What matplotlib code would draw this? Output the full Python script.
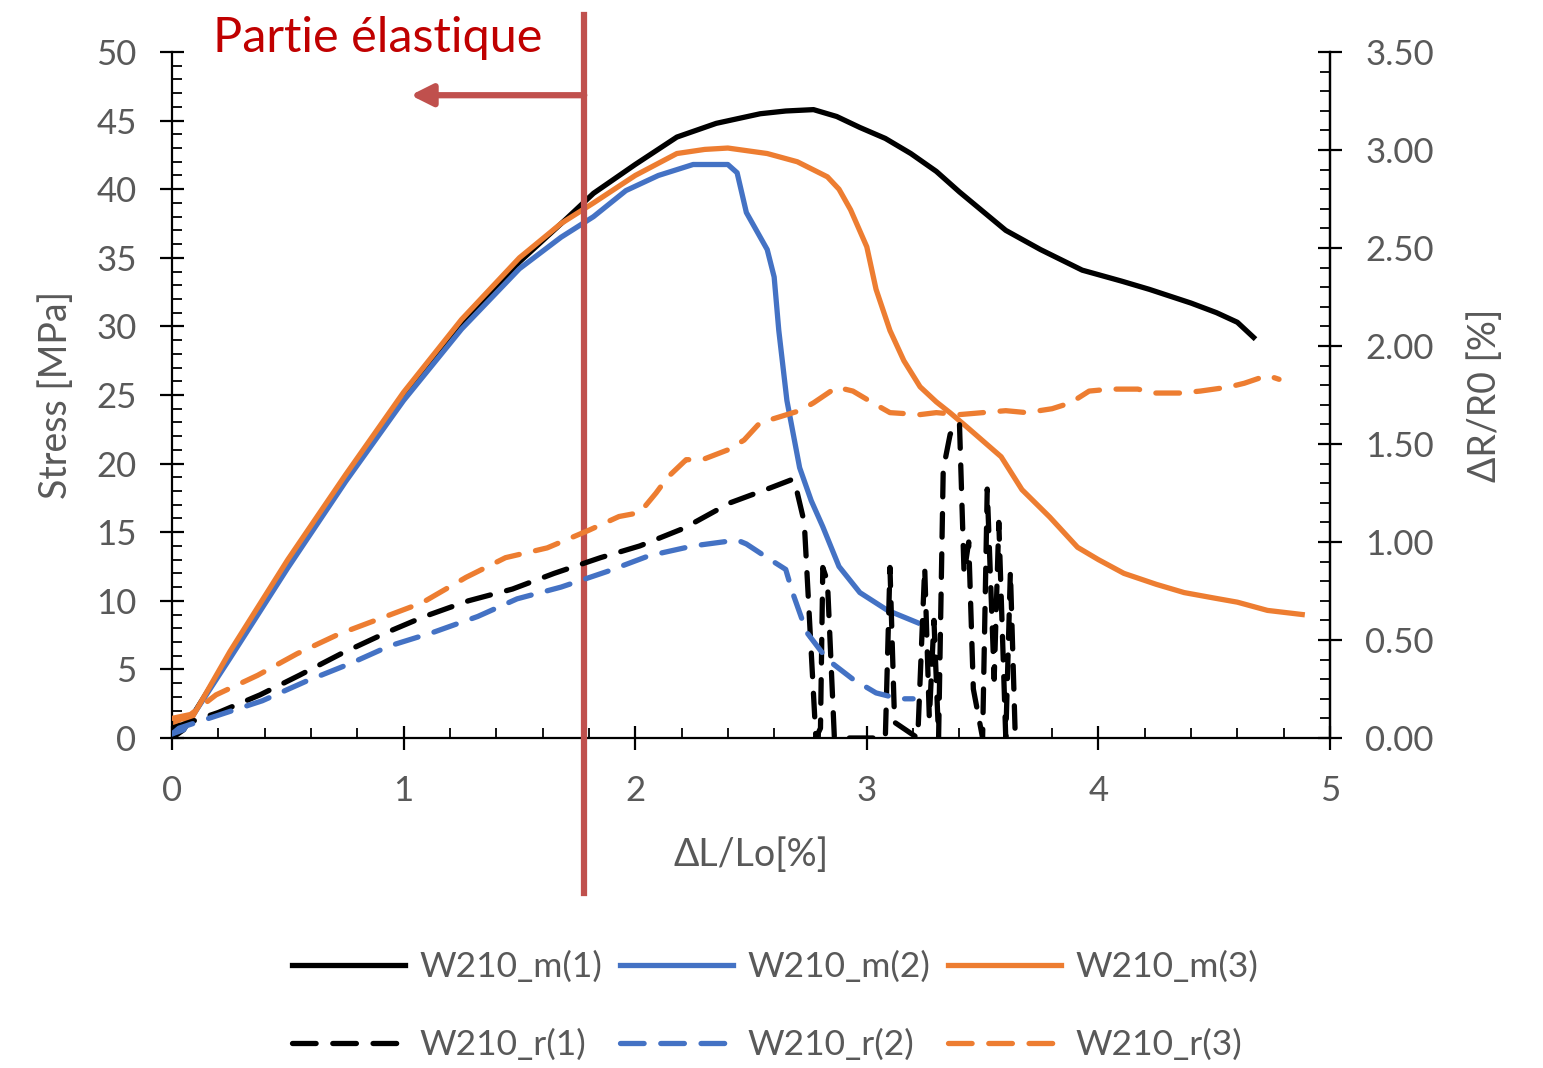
import matplotlib
matplotlib.use("Agg")
import matplotlib.pyplot as plt
from matplotlib.ticker import MultipleLocator, FormatStrFormatter
from matplotlib.transforms import blended_transform_factory

plt.rcParams['font.family'] = ['Lato', 'DejaVu Sans']
plt.rcParams['lines.scale_dashes'] = False

# stress curves (left axis)
m1_x = [0, 0.05, 0.25, 0.5, 0.75, 1.0, 1.25, 1.5, 1.7, 1.82, 2.0, 2.18, 2.35, 2.54, 2.65, 2.77,
        2.87, 2.97, 3.08, 3.19, 3.30, 3.40, 3.50, 3.60, 3.75, 3.93, 4.10, 4.22, 4.40, 4.51, 4.60, 4.67]
m1_y = [0, 0.6, 6.0, 12.7, 19.0, 25.0, 30.2, 34.7, 37.8, 39.7, 41.8, 43.8, 44.8, 45.5, 45.7, 45.8,
        45.3, 44.5, 43.7, 42.6, 41.3, 39.8, 38.4, 37.0, 35.6, 34.1, 33.3, 32.7, 31.7, 31.0, 30.3, 29.2]

m2_x = [0, 0.05, 0.25, 0.5, 0.75, 1.0, 1.25, 1.5, 1.68, 1.82, 1.96, 2.1, 2.25, 2.40, 2.44, 2.48,
        2.53, 2.57, 2.60, 2.62, 2.655, 2.71, 2.76, 2.81, 2.88, 2.97, 3.09, 3.22]
m2_y = [0.3, 0.6, 5.8, 12.4, 18.7, 24.6, 29.8, 34.2, 36.5, 38.0, 39.9, 41.0, 41.8, 41.8, 41.2, 38.3,
        36.8, 35.6, 33.6, 29.7, 24.6, 19.7, 17.3, 15.4, 12.5, 10.6, 9.3, 8.4]

m3_x = [0, 0.04, 0.08, 0.25, 0.5, 0.75, 1.0, 1.25, 1.5, 1.68, 1.82, 2.0, 2.18, 2.30, 2.40, 2.57,
        2.70, 2.83, 2.88, 2.93, 3.0, 3.04, 3.10, 3.16, 3.23, 3.30, 3.36, 3.43, 3.58, 3.67, 3.79,
        3.91, 4.0, 4.11, 4.25, 4.37, 4.50, 4.60, 4.73, 4.88]
m3_y = [1.0, 1.4, 1.3, 6.3, 13.0, 19.2, 25.2, 30.5, 35.0, 37.5, 39.0, 41.0, 42.6, 42.9, 43.0, 42.6,
        42.0, 40.9, 40.0, 38.5, 35.8, 32.7, 29.7, 27.5, 25.6, 24.5, 23.7, 22.7, 20.5, 18.1, 16.1,
        13.9, 13.0, 12.0, 11.2, 10.6, 10.2, 9.9, 9.3, 9.0]

# resistance curves (right axis)
r1_x = [0, 0.2, 0.38, 0.55, 0.73, 0.93, 1.09, 1.28, 1.47, 1.65, 1.85, 2.02, 2.21, 2.41, 2.57, 2.68,
        2.70, 2.73, 2.78, 2.80, 2.81, 2.83, 2.86, 3.08, 3.10, 3.12, 3.22, 3.25, 3.27, 3.29, 3.31,
        3.33, 3.36, 3.40, 3.42, 3.44, 3.46, 3.50, 3.52, 3.55, 3.57, 3.60, 3.62, 3.64]
r1_y = [0.05, 0.13, 0.22, 0.32, 0.43, 0.54, 0.62, 0.70, 0.76, 0.84, 0.92, 0.98, 1.07, 1.20, 1.27, 1.32,
        1.25, 1.10, 0.0, 0.05, 0.87, 0.80, 0.0, 0.0, 0.87, 0.08, 0.0, 0.87, 0.1, 0.6, 0.0,
        1.37, 1.55, 1.61, 0.84, 1.0, 0.25, 0.0, 1.27, 0.3, 1.1, 0.0, 0.85, 0.05]

r2_x = [0, 0.03, 0.21, 0.39, 0.58, 0.77, 0.94, 1.13, 1.32, 1.49, 1.68, 1.88, 2.06, 2.25, 2.44, 2.48,
        2.57, 2.65, 2.68, 2.74, 2.83, 2.94, 3.04, 3.14, 3.20]
r2_y = [0.02, 0.05, 0.12, 0.19, 0.29, 0.38, 0.47, 0.54, 0.62, 0.71, 0.77, 0.85, 0.93, 0.98, 1.01, 0.99,
        0.92, 0.86, 0.74, 0.54, 0.40, 0.30, 0.23, 0.20, 0.20]

r3_x = [0, 0.08, 0.19, 0.37, 0.54, 0.72, 0.90, 1.08, 1.27, 1.44, 1.62, 1.80, 1.93, 2.02, 2.09, 2.14,
        2.22, 2.29, 2.40, 2.47, 2.54, 2.60, 2.71, 2.77, 2.87, 2.94, 3.04, 3.10, 3.23, 3.30, 3.40,
        3.50, 3.60, 3.69, 3.80, 3.88, 3.96, 4.05, 4.17, 4.24, 4.35, 4.44, 4.56, 4.63, 4.73, 4.78]
r3_y = [0.10, 0.12, 0.22, 0.32, 0.43, 0.53, 0.61, 0.69, 0.82, 0.92, 0.97, 1.06, 1.13, 1.15, 1.25, 1.33,
        1.42, 1.42, 1.47, 1.52, 1.61, 1.63, 1.67, 1.71, 1.79, 1.77, 1.70, 1.66, 1.65, 1.66, 1.65,
        1.66, 1.67, 1.66, 1.68, 1.71, 1.77, 1.78, 1.78, 1.76, 1.76, 1.77, 1.79, 1.81, 1.85, 1.83]

elastic_limit = 1.78
arrow_end = 1.03

black = '#000000'
blue = '#4472C4'
orange = '#ED7D31'
grey = '#595959'
red = '#C0504D'

fig = plt.figure(figsize=(15.43, 10.68), dpi=100)
ax = fig.add_axes([172 / 1543, 1 - 738 / 1068, (1330 - 172) / 1543, (738 - 52) / 1068])
ax2 = ax.twinx()

lw = 3.8
dash = (17, 12)
l1, = ax.plot(m1_x, m1_y, color=black, lw=lw, label='W210_m(1)')
l2, = ax.plot(m2_x, m2_y, color=blue, lw=lw, label='W210_m(2)')
l3, = ax.plot(m3_x, m3_y, color=orange, lw=lw, label='W210_m(3)')
d1, = ax2.plot(r1_x, r1_y, color=black, lw=lw, dashes=dash, dash_capstyle='round', label='W210_r(1)')
d2, = ax2.plot(r2_x, r2_y, color=blue, lw=lw, dashes=dash, dash_capstyle='round', label='W210_r(2)')
d3, = ax2.plot(r3_x, r3_y, color=orange, lw=lw, dashes=dash, dash_capstyle='round', label='W210_r(3)')

ax.set_xlim(0, 5)
ax.set_ylim(0, 50)
ax2.set_ylim(0, 3.5)

ax.xaxis.set_major_locator(MultipleLocator(1))
ax.xaxis.set_minor_locator(MultipleLocator(0.2))
ax.yaxis.set_major_locator(MultipleLocator(5))
ax.yaxis.set_minor_locator(MultipleLocator(1))
ax2.yaxis.set_major_locator(MultipleLocator(0.5))
ax2.yaxis.set_minor_locator(MultipleLocator(0.1))
ax2.yaxis.set_major_formatter(FormatStrFormatter('%.2f'))

for a in (ax, ax2):
    a.spines['top'].set_visible(False)
    for s in a.spines.values():
        s.set_linewidth(1.6)
    a.tick_params(which='major', direction='inout', length=17, width=1.6,
                  labelsize=25, labelcolor=grey, pad=17)
    a.tick_params(which='minor', direction='in', length=7, width=1.3)
ax.tick_params(axis='x', which='major', pad=18)
ax2.spines['left'].set_visible(False)
ax2.spines['bottom'].set_visible(False)

ax.set_xlabel('ΔL/Lo[%]', fontsize=27, color=grey, labelpad=22)
ax.set_ylabel('Stress [MPa]', fontsize=27, color=grey, labelpad=16)
ax2.set_ylabel('ΔR/R0 [%]', fontsize=27, color=grey, rotation=90, labelpad=24)

# elastic part marker
tr = blended_transform_factory(ax.transData, ax.transAxes)
ax.plot([elastic_limit, elastic_limit], [-0.226, 1.054], color=red, lw=4.5, transform=tr,
        clip_on=False, zorder=10)
ax.annotate('', xy=(arrow_end, 0.937), xytext=(elastic_limit, 0.937),
            xycoords=tr, textcoords=tr,
            arrowprops=dict(arrowstyle='-|>,head_length=1.3,head_width=0.65', color=red, lw=4.5,
                            shrinkA=0, shrinkB=0))
ax.text(0.177, 1.0, 'Partie élastique', transform=tr, fontsize=35, color='#C00000',
        va='baseline', ha='left')

handles = [l1, d1, l2, d2, l3, d3]
fig.legend(handles=handles, loc='center', bbox_to_anchor=(775 / 1543, 1 - 1006 / 1068),
           ncol=3, frameon=False, fontsize=25.5, labelcolor=grey, handlelength=3.2,
           handletextpad=0.4, columnspacing=0.5, labelspacing=1.3)

fig.savefig('out.png', dpi=100)
